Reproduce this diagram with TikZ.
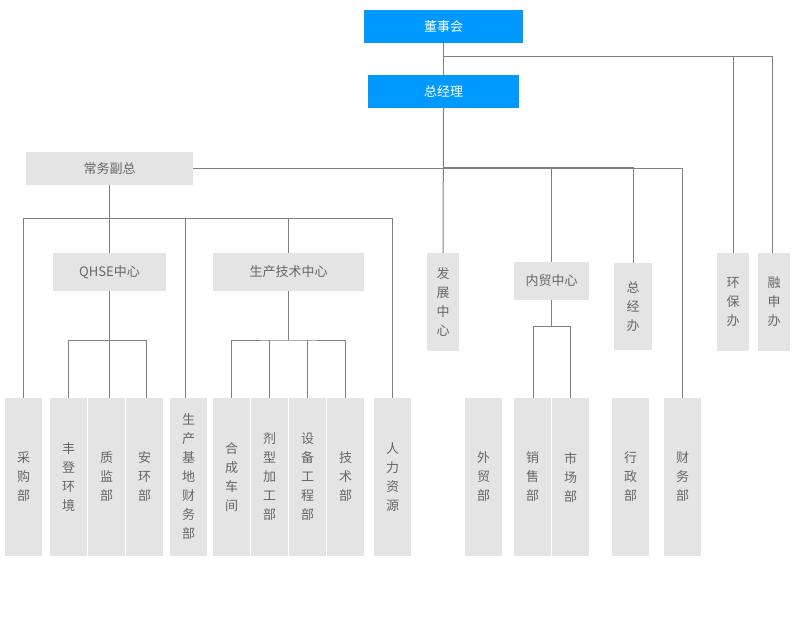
\documentclass[tikz,border=0pt]{standalone}
\usepackage{fontspec}
\setmainfont{Noto Sans CJK SC}
\definecolor{boxgray}{HTML}{E4E4E4}
\definecolor{txtgray}{HTML}{666666}
\definecolor{linegray}{HTML}{808080}
\definecolor{topblue}{HTML}{0099FF}
\begin{document}
\begin{tikzpicture}[x=1pt,y=-1pt,
  gbox/.style={fill=boxgray, inner sep=0pt, outer sep=0pt, anchor=north west, align=center,
    font=\fontsize{13}{19}\selectfont, text=txtgray},
  bbox/.style={fill=topblue, inner sep=0pt, outer sep=0pt, anchor=north west, align=center,
    font=\fontsize{13}{19}\selectfont, text=white},
  conn/.style={draw=linegray, line width=1pt}]
\fill[white] (0,0) rectangle (800,628);
\useasboundingbox (0,0) rectangle (800,628);
% top
\node[bbox, minimum width=159pt, minimum height=33pt] (dsh) at (364,10) {董事会};
\node[bbox, minimum width=151pt, minimum height=33pt] (zjl) at (368,75) {总经理};
\node[gbox, minimum width=167pt, minimum height=33pt] (cwfz) at (26,152) {常务副总};
\node[gbox, minimum width=32pt, minimum height=98pt] (fz) at (427,253) {发\\展\\中\\心};
\node[gbox, minimum width=75pt, minimum height=38pt] (nm) at (514,262) {内贸中心};
\node[gbox, minimum width=38pt, minimum height=87pt] (zjb) at (614,263) {总\\经\\办};
\node[gbox, minimum width=32pt, minimum height=98pt] (hbb) at (717,253) {环\\保\\办};
\node[gbox, minimum width=32pt, minimum height=98pt] (rsb) at (758,253) {融\\申\\办};
\node[gbox, minimum width=113pt, minimum height=38pt] (qhse) at (53,253) {QHSE中心};
\node[gbox, minimum width=151pt, minimum height=38pt] (scjs) at (213,253) {生产技术中心};
% bottom row
\node[gbox, minimum width=37pt, minimum height=158pt] (cgb) at (5,398) {采\\购\\部};
\node[gbox, minimum width=37pt, minimum height=158pt] (fdhj) at (50,398) {丰\\登\\环\\境};
\node[gbox, minimum width=37pt, minimum height=158pt] (zjbu) at (88,398) {质\\监\\部};
\node[gbox, minimum width=37pt, minimum height=158pt] (ahb) at (126,398) {安\\环\\部};
\node[gbox, minimum width=37pt, minimum height=158pt] (sjcw) at (170,398) {生\\产\\基\\地\\财\\务\\部};
\node[gbox, minimum width=37pt, minimum height=158pt] (hccj) at (213,398) {合\\成\\车\\间};
\node[gbox, minimum width=37pt, minimum height=158pt] (jxjg) at (251,398) {剂\\型\\加\\工\\部};
\node[gbox, minimum width=37pt, minimum height=158pt] (sbgc) at (289,398) {设\\备\\工\\程\\部};
\node[gbox, minimum width=37pt, minimum height=158pt] (jsb) at (327,398) {技\\术\\部};
\node[gbox, minimum width=37pt, minimum height=158pt] (rlzy) at (374,398) {人\\力\\资\\源};
\node[gbox, minimum width=37pt, minimum height=158pt] (wmb) at (465,398) {外\\贸\\部};
\node[gbox, minimum width=37pt, minimum height=158pt] (xsb) at (514,398) {销\\售\\部};
\node[gbox, minimum width=37pt, minimum height=158pt] (scb) at (552,398) {市\\场\\部};
\node[gbox, minimum width=37pt, minimum height=158pt] (xzb) at (612,398) {行\\政\\部};
\node[gbox, minimum width=37pt, minimum height=158pt] (cwb) at (664,398) {财\\务\\部};
% junctions
\coordinate (b0) at (443.5,57);
\coordinate (r0) at (772,57);
\coordinate (b1) at (443.5,168);
\coordinate (b2) at (109.5,219);
\coordinate (s2) at (185,219);
\coordinate (b3) at (109.5,340);
\coordinate (b4) at (288.5,340);
\coordinate (b5) at (551.5,326);
\coordinate (q1) at (68.5,340);
\coordinate (q3) at (146.5,340);
\coordinate (n1) at (533.5,326);
\coordinate (n2) at (570.5,326);
% connectors
\draw[conn] (dsh.south) -- (zjl.north);
\draw[conn] (b0) -| (hbb.north);
\draw[conn] (b0) -- (r0) -- (r0 |- rsb.north);
\draw[conn] (zjl.south) -- (fz.north);
\draw[conn] (cwfz.east) -| (cwb.north);
\draw[conn] (b1) -| (nm.north);
\draw[conn] (b1) -| (zjb.north);
\draw[conn] (cwfz.south) -- (qhse.north);
\draw[conn] (cgb.north) -- (cgb.north |- b2) -- (rlzy.north |- b2) -- (rlzy.north);
\draw[conn] (s2) -- (s2 |- sjcw.north);
\draw[conn] (scjs.north) -- (scjs.north |- b2);
\draw[conn] (qhse.south) -- (b3);
\draw[conn] (fdhj.north -| q1) -- (q1) -- (q3) -- (q3 |- ahb.north);
\draw[conn] (b3) -- (b3 |- zjbu.north);
\draw[conn] (scjs.south) -- (b4);
\draw[conn] (hccj.north) |- (b4) -| (jsb.north);
\draw[conn] (jxjg.north) -- (jxjg.north |- b4);
\draw[conn] (sbgc.north) -- (sbgc.north |- b4);
\draw[conn] (nm.south) -- (b5);
\draw[conn] (xsb.north -| n1) -- (n1) -- (n2) -- (n2 |- scb.north);
\end{tikzpicture}
\end{document}
